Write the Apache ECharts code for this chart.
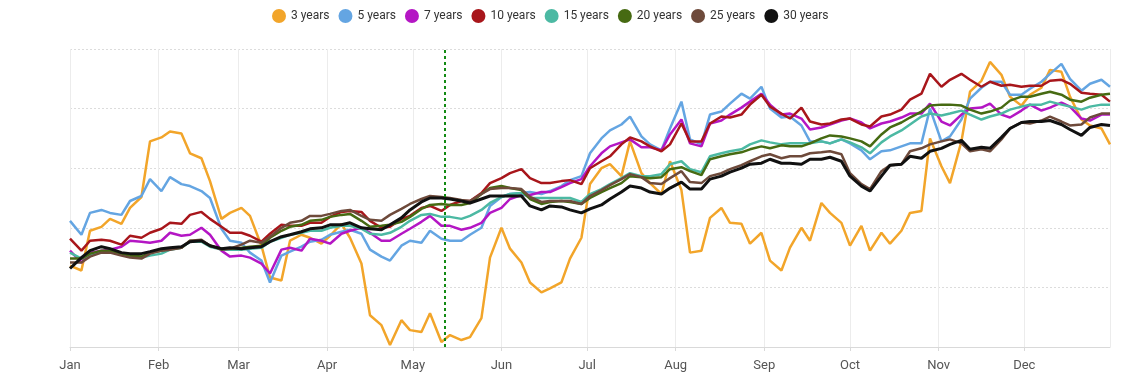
<!DOCTYPE html>
<html>
<head>
<meta charset="utf-8">
<script src="https://cdn.jsdelivr.net/npm/echarts@6/dist/echarts.min.js"></script>
<style>
html,body{margin:0;padding:0;background:#fff;}
#chart{width:1128px;height:389px;}
</style>
</head>
<body>
<div id="chart"></div>
<script>
// Day offsets from 1 Jan (sample dates, twice weekly)
const days = [0,4,7,11,14,18,21,25,28,32,35,39,42,46,49,53,56,60,63,67,70,74,77,81,84,88,91,95,98,102,105,109,112,116,119,123,126,130,133,137,140,144,147,151,154,158,161,165,168,172,175,179,182,186,189,193,196,200,203,207,210,214,217,221,224,228,231,235,238,242,245,249,252,256,259,263,266,270,273,277,280,284,287,291,294,298,301,305,308,312,315,319,322,326,329,333,336,340,343,347,350,354,357,361,364];

const seriesNames = ['3 years','5 years','7 years','10 years','15 years','20 years','25 years','30 years'];

const y3 = [82,77,117,121,129,124,140,151,207,211,217,215,195,190,167,129,135,140,132,102,70,67,107,113,110,104,112,124,110,84,32,22,2,27,17,15,34,5,12,7,10,29,90,120,99,85,65,55,59,65,89,110,164,180,184,172,207,175,165,154,187,158,95,97,130,140,125,124,104,115,87,77,100,120,107,145,135,125,102,122,97,115,104,117,135,137,210,182,165,207,257,268,287,274,252,243,254,261,279,277,252,229,223,220,204];
const y5 = [127,113,135,138,135,133,147,152,169,157,171,164,162,157,150,119,107,105,95,87,65,92,96,101,106,108,113,116,118,114,98,91,87,102,107,105,117,109,107,107,113,120,142,151,154,155,156,154,157,162,168,172,195,210,218,224,232,212,204,198,220,247,209,204,234,237,245,255,250,262,240,231,232,223,207,207,205,209,205,198,189,197,198,202,205,205,240,207,212,229,250,261,267,267,254,254,260,267,275,285,270,258,265,269,262];
const y7 = [97,85,95,97,98,101,107,106,105,107,115,112,113,120,113,97,91,92,90,84,74,98,100,97,109,107,104,114,117,120,115,107,107,114,119,126,132,122,122,118,120,125,135,140,149,153,153,156,156,161,165,169,182,195,202,206,209,201,201,198,214,229,205,202,225,228,234,241,247,255,244,234,235,230,219,221,224,228,230,226,220,225,227,231,235,235,245,227,223,234,240,241,245,234,231,238,244,238,241,246,242,230,228,234,234];
const y10 = [109,97,107,108,107,103,112,110,115,119,125,124,133,136,129,121,115,115,112,106,114,123,122,122,125,125,131,136,137,136,127,120,121,129,132,140,142,137,143,147,147,155,165,170,175,179,170,165,165,167,168,164,180,187,192,204,211,207,202,197,204,225,207,207,225,232,231,234,244,254,242,235,230,241,227,224,225,229,230,224,222,232,234,239,249,255,275,262,269,275,269,262,267,263,264,262,263,263,268,269,265,256,255,254,247];
const y15 = [95,89,93,96,96,93,91,90,92,94,98,100,106,106,101,98,98,98,99,100,106,110,113,115,117,117,120,122,122,119,114,113,115,121,127,133,134,131,131,129,132,138,145,151,154,155,150,150,150,150,150,146,154,159,164,170,175,172,172,174,184,187,179,176,192,195,197,199,204,208,206,204,205,205,205,207,205,209,206,201,195,206,212,218,224,232,235,233,235,238,234,229,232,235,239,242,244,244,247,244,242,239,242,244,244];
const y20 = [89,89,94,97,97,94,92,91,95,97,99,100,107,107,102,99,99,100,101,102,110,117,121,123,127,128,131,133,134,127,121,122,123,126,131,139,143,144,143,143,145,154,160,162,160,158,149,144,146,147,146,144,150,156,160,165,172,171,170,171,179,181,177,173,189,192,194,196,199,202,200,203,202,202,205,210,213,212,210,207,202,214,221,226,231,237,243,244,244,243,239,235,237,241,248,252,252,255,257,254,249,247,251,254,255];
const y25 = [85,85,91,95,95,92,90,89,94,97,98,100,107,108,102,98,99,103,107,105,111,120,125,127,132,132,134,137,138,132,128,127,133,139,144,149,152,151,150,148,147,154,159,160,160,159,151,146,147,147,147,144,152,158,163,169,174,171,165,164,170,177,166,165,172,175,179,183,187,192,194,190,192,192,195,196,197,194,175,164,159,177,183,184,197,200,204,207,209,205,197,199,197,209,220,226,225,228,232,227,223,224,231,235,235];
const y30 = [79,90,97,101,99,95,94,94,96,99,100,101,106,107,102,99,100,99,100,101,106,111,113,116,119,120,123,123,125,120,119,118,123,130,138,146,150,150,149,147,145,149,152,152,152,152,142,138,142,141,138,135,139,143,149,156,162,160,156,154,160,166,159,159,169,172,176,180,184,185,189,185,185,184,189,189,191,187,172,162,157,172,183,184,192,190,197,200,204,208,199,201,200,211,220,226,227,227,228,224,219,213,221,224,223];

const colors = ['#f2a52a','#64a5e2','#b416c4','#a8161b','#4cb9a3','#466a12','#6e4a3b','#111111'];
const widths = [2.5,2.5,2.5,2.5,2.5,2.5,2.5,3];
const allValues = [y3,y5,y7,y10,y15,y20,y25,y30];

const year = 2023;
const xDates = days.map(d => new Date(year, 0, 1 + d).getTime());
const markerDate = new Date(year, 4, 12).getTime();

const series = seriesNames.map((name, i) => {
  const s = {
    name: name,
    type: 'line',
    showSymbol: false,
    symbol: 'none',
    smooth: false,
    color: colors[i],
    lineStyle: { width: widths[i], color: colors[i] },
    data: xDates.map((t, j) => [t, allValues[i][j]])
  };
  if (i === 0) {
    s.markLine = {
      silent: true,
      symbol: ['none','none'],
      label: { show: false },
      lineStyle: { color: '#138a13', type: [3,3], width: 2 },
      data: [{ xAxis: markerDate }]
    };
  }
  return s;
});

const chart = echarts.init(document.getElementById('chart'), null, { renderer: 'canvas' });
chart.setOption({
  animation: false,
  backgroundColor: '#ffffff',
  textStyle: { fontFamily: 'Roboto, "Noto Sans", sans-serif' },
  legend: {
    top: 4,
    left: 267,
    icon: 'circle',
    itemWidth: 14,
    itemHeight: 14,
    itemGap: 9,
    textStyle: { fontSize: 12, color: '#333', fontFamily: 'Roboto, sans-serif' },
    data: seriesNames
  },
  grid: { left: 70, right: 18, top: 49, bottom: 42, containLabel: false },
  xAxis: {
    type: 'time',
    min: new Date(year, 0, 1).getTime(),
    max: new Date(year, 11, 31).getTime(),
    splitNumber: 12,
    minInterval: 28 * 86400000,
    axisLine: { show: true, lineStyle: { color: '#d9d9d9', width: 1 } },
    axisTick: { show: true, length: 4, lineStyle: { color: '#d9d9d9' } },
    axisLabel: { formatter: '{MMM}', color: '#555', fontSize: 13, margin: 12, showMinLabel: true, showMaxLabel: false },
    splitLine: { show: true, lineStyle: { color: '#ececec', width: 1 } }
  },
  yAxis: {
    type: 'value',
    min: 0,
    max: 300,
    interval: 60,
    axisLine: { show: false },
    axisTick: { show: false },
    axisLabel: { show: false },
    splitLine: { show: true, lineStyle: { color: '#dcdcdc', type: [2,2], width: 1 } }
  },
  series: series
});
</script>
</body>
</html>
